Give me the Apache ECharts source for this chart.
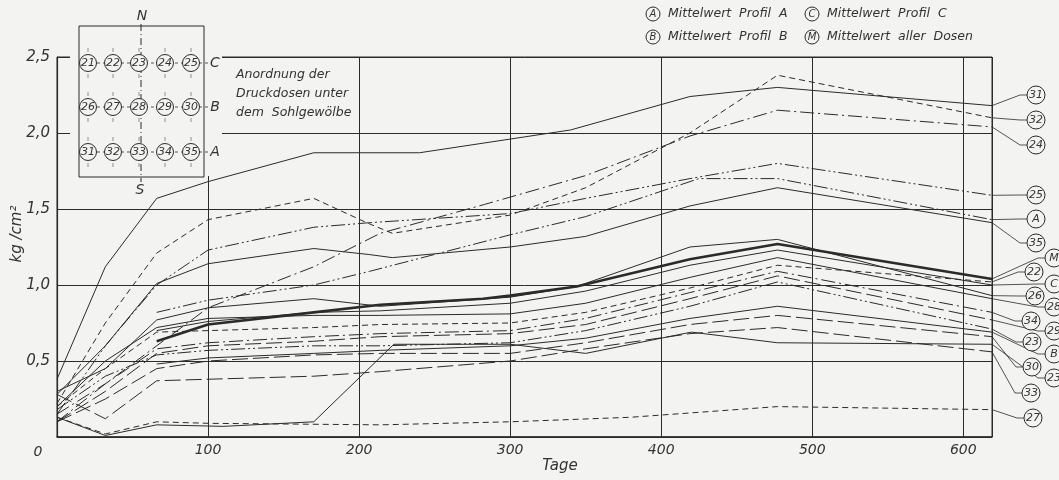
<!DOCTYPE html>
<html><head><meta charset="utf-8">
<script src="https://cdn.jsdelivr.net/npm/echarts/dist/echarts.min.js"></script>
<style>html,body{margin:0;padding:0;background:#f3f3f1}#c{width:1059px;height:480px}</style>
</head><body><div id="c"></div><script>
// ---- data: [Tage, kg/cm²] ----
const s31 = [[0,0.38],[32,1.12],[66,1.57],[100,1.68],[170,1.87],[240,1.87],[340,2.02],[419,2.24],[477,2.30],[619,2.18]];
const s32 = [[0,0.22],[32,0.75],[66,1.21],[100,1.43],[170,1.57],[205,1.41],[222,1.34],[300,1.46],[350,1.64],[419,2.0],[477,2.38],[619,2.10]];
const s24 = [[0,0.1],[32,0.35],[66,0.6],[100,0.85],[170,1.12],[214,1.34],[283,1.53],[350,1.72],[419,1.98],[477,2.15],[619,2.04]];
const s25 = [[0,0.15],[32,0.6],[66,1.0],[100,1.23],[170,1.38],[207,1.41],[300,1.47],[350,1.57],[419,1.70],[477,1.80],[619,1.59]];
const sA  = [[66,0.82],[100,0.9],[170,1.0],[207,1.09],[300,1.33],[350,1.45],[425,1.70],[477,1.70],[619,1.43]];
const s35 = [[0,0.28],[32,0.6],[66,1.01],[100,1.14],[170,1.24],[207,1.20],[222,1.18],[300,1.25],[350,1.32],[419,1.52],[477,1.64],[619,1.41]];
const sM  = [[66,0.63],[100,0.74],[170,0.82],[214,0.87],[282,0.91],[300,0.93],[344,0.99],[419,1.17],[477,1.27],[619,1.04]];
const s26 = [[0,0.3],[32,0.45],[66,0.77],[100,0.85],[170,0.91],[214,0.86],[300,0.92],[344,0.99],[419,1.25],[477,1.30],[619,0.93]];
const sC  = [[66,0.70],[100,0.76],[170,0.82],[214,0.83],[300,0.88],[350,0.96],[419,1.13],[477,1.23],[619,1.00]];
const s28 = [[0,0.2],[32,0.5],[66,0.72],[100,0.78],[170,0.80],[214,0.80],[300,0.81],[350,0.88],[419,1.05],[477,1.18],[619,0.91]];
const s22 = [[0,0.2],[32,0.45],[66,0.69],[100,0.70],[170,0.72],[214,0.74],[300,0.75],[350,0.82],[419,0.98],[477,1.13],[619,1.02]];
const s34 = [[0,0.15],[32,0.35],[66,0.58],[100,0.62],[170,0.66],[214,0.68],[300,0.70],[350,0.78],[419,0.95],[477,1.09],[619,0.82]];
const s29 = [[0,0.1],[32,0.3],[66,0.55],[100,0.60],[170,0.63],[214,0.66],[300,0.68],[350,0.74],[419,0.91],[477,1.06],[619,0.77]];
const s23 = [[0,0.18],[32,0.4],[66,0.54],[100,0.57],[170,0.60],[214,0.60],[300,0.62],[350,0.70],[419,0.86],[477,1.02],[619,0.71]];
const sB  = [[66,0.48],[100,0.52],[170,0.55],[214,0.57],[300,0.60],[350,0.65],[419,0.78],[477,0.86],[619,0.69]];
const s30 = [[0,0.1],[32,0.25],[66,0.45],[100,0.50],[170,0.54],[214,0.55],[300,0.55],[350,0.62],[419,0.74],[477,0.80],[619,0.66]];
const s21 = [[0,0.13],[32,0.01],[66,0.08],[110,0.07],[170,0.10],[223,0.61],[300,0.61],[350,0.55],[400,0.65],[420,0.69],[477,0.62],[619,0.61]];
const s33 = [[0,0.28],[32,0.12],[66,0.37],[100,0.38],[170,0.40],[214,0.43],[300,0.50],[350,0.58],[419,0.68],[477,0.72],[619,0.56]];
const s27 = [[0,0.13],[32,0.02],[66,0.10],[100,0.09],[214,0.08],[300,0.10],[380,0.13],[477,0.20],[619,0.18]];

const seriesNames = ['31','32','24','25','A','35','M','26','C','28','22','34','29','23','B','30','21','33','27'];
const seriesData  = [s31,s32,s24,s25,sA,s35,sM,s26,sC,s28,s22,s34,s29,s23,sB,s30,s21,s33,s27];
const endLabels   = ['31','32','24','25','A','35','M','26','C','28','22','34','29','23','B','30','23','33','27'];
const xMax = 619;
const yTicks = [0,0.5,1.0,1.5,2.0,2.5];

// ---- styles ----
const INK = '#2b2b2b', BG = '#f3f3f1';
const FONT = 'DejaVu Sans';
const DASH = {solid:'solid', dash:[6,4], dashdot:[14,4,2,4], dashdotdot:[14,3,2,3,2,3], long:[16,5]};
const styleOf = {'31':'solid','32':'dash','24':'dashdot','25':'dashdotdot','A':'dashdotdot','35':'solid','M':'solid',
  '26':'solid','C':'solid','28':'solid','22':'dash','34':'dashdot','29':'long','23':'dashdotdot','B':'solid',
  '30':'long','21':'solid','33':'long','27':'dash'};
const labelSlots = {'31':[1036,95],'32':[1036,120],'24':[1036,145],'25':[1036,195],'A':[1036,219],'35':[1036,243],
  'M':[1054,258],'22':[1034,272],'C':[1054,284],'26':[1035,296],'28':[1054,307],'34':[1031,321],'29':[1054,331],
  '23':[1032,342],'B':[1054,354],'30':[1032,367],'21':[1054,378],'33':[1031,393],'27':[1033,418]};

const chart = echarts.init(document.getElementById('c'), null, {renderer:'canvas'});
const series = seriesNames.map((n,i)=>({
  name:n, type:'line', data:seriesData[i], symbol:'none', smooth:false, silent:true, z: n==='M'?4:3,
  lineStyle:{color:INK, width: n==='M'?2.6:1, type: DASH[styleOf[n]]}
}));

chart.setOption({
  backgroundColor: BG,
  animation:false,
  grid:{left:57, right:67, top:57, bottom:43, containLabel:false, outerBoundsMode:'none',
        show:true, borderColor:INK, borderWidth:1, backgroundColor:'transparent'},
  xAxis:{type:'value', min:0, max:xMax, interval:100,
    axisLine:{show:true, onZero:false, lineStyle:{color:INK, width:1.6}}, axisTick:{show:false},
    splitLine:{show:true, lineStyle:{color:INK, width:1}},
    axisLabel:{showMaxLabel:false, margin:6, color:'#333', fontFamily:FONT, fontStyle:'italic', fontSize:14,
      formatter: v => v===0 ? '{z|0}' : String(v),
      rich:{z:{padding:[2,38,0,0], color:'#333', fontFamily:FONT, fontStyle:'italic', fontSize:14}}}},
  yAxis:{type:'value', min:0, max:2.5, interval:0.5,
    axisLine:{show:true, lineStyle:{color:INK, width:1.2}}, axisTick:{show:false},
    splitLine:{show:true, lineStyle:{color:INK, width:1}},
    axisLabel:{margin:7, color:'#333', fontFamily:FONT, fontStyle:'italic', fontSize:15,
      formatter: v => v===0 ? '' : v.toFixed(1).replace('.', ',')}},
  series
});

// ---- annotations ----
const g = [];
const T = (text,x,y,size,extra) => Object.assign({type:'text', z:60, x, y,
  style:{text, fill:'#333', font:'italic '+size+'px "'+FONT+'"', textAlign:'center', textVerticalAlign:'middle'}}, extra||{});
// hide grid portions behind inset
g.push({type:'rect', z:50, shape:{x:70,y:50,width:152,height:12}, style:{fill:BG}});
g.push({type:'rect', z:50, shape:{x:70,y:126,width:152,height:12}, style:{fill:BG}});
g.push({type:'rect', z:50, shape:{x:202,y:50,width:12,height:126}, style:{fill:BG}});
// inset box
g.push({type:'rect', z:51, shape:{x:79,y:26,width:125,height:151}, style:{fill:BG, stroke:INK, lineWidth:1}});
const cols = [88,113,139,165,191], rows = [63,107,152], rowLetters = ['C','B','A'];
const nums = [['21','22','23','24','25'],['26','27','28','29','30'],['31','32','33','34','35']];
g.push({type:'line', z:52, shape:{x1:141,y1:24,x2:141,y2:182}, style:{stroke:INK, lineWidth:1, lineDash:[7,3,1,3]}});
rows.forEach((ry,ri)=>{
  g.push({type:'line', z:52, shape:{x1:79,y1:ry,x2:208,y2:ry}, style:{stroke:INK, lineWidth:0.8, lineDash:[3,3]}});
  g.push(T(rowLetters[ri],215,ry,14));
  cols.forEach((cx,ci)=>{
    g.push({type:'line', z:52, shape:{x1:cx,y1:ry-15,x2:cx,y2:ry-11}, style:{stroke:'#777', lineWidth:0.8}});
    g.push({type:'line', z:52, shape:{x1:cx,y1:ry+11,x2:cx,y2:ry+15}, style:{stroke:'#777', lineWidth:0.8}});
    g.push({type:'circle', z:53, shape:{cx,cy:ry,r:8.5}, style:{fill:BG, stroke:INK, lineWidth:1}});
    g.push(T(nums[ri][ci],cx,ry+0.5,11,{z:54}));
  });
});
g.push(T('N',142,16,14));
g.push(T('S',140,190,14));
g.push({type:'text', z:60, x:236, y:75, style:{text:'Anordnung der', fill:'#333', font:'italic 12.5px "'+FONT+'"', textVerticalAlign:'middle'}});
g.push({type:'text', z:60, x:236, y:94, style:{text:'Druckdosen unter', fill:'#333', font:'italic 12.5px "'+FONT+'"', textVerticalAlign:'middle'}});
g.push({type:'text', z:60, x:236, y:113, style:{text:'dem  Sohlgewölbe', fill:'#333', font:'italic 12.5px "'+FONT+'"', textVerticalAlign:'middle'}});
// axis names
g.push(T('kg /cm²',17,234,15,{rotation:Math.PI/2}));
g.push(T('Tage',560,466,15));
// legend
const legendItems = [['A','Mittelwert  Profil  A',653,14],['B','Mittelwert  Profil  B',653,37],
                     ['C','Mittelwert  Profil  C',812,14],['M','Mittelwert  aller  Dosen',812,37]];
legendItems.forEach(([k,t,x,y])=>{
  g.push({type:'circle', z:55, shape:{cx:x,cy:y,r:7}, style:{fill:'none', stroke:INK, lineWidth:1}});
  g.push(T(k,x,y+0.5,10));
  g.push({type:'text', z:60, x:x+15, y, style:{text:t, fill:'#333', font:'italic 12.5px "'+FONT+'"', textVerticalAlign:'middle'}});
});
// end labels with leader lines
seriesNames.forEach((n,i)=>{
  const d = seriesData[i], last = d[d.length-1];
  const p = chart.convertToPixel({gridIndex:0}, last);
  const [cx,cy] = labelSlots[n];
  g.push({type:'polyline', z:55, shape:{points:[[p[0],p[1]],[cx-16,cy],[cx-9,cy]]}, style:{stroke:INK, lineWidth:0.8, fill:'none'}});
  g.push({type:'circle', z:56, shape:{cx,cy,r:9}, style:{fill:BG, stroke:INK, lineWidth:1}});
  g.push(T(endLabels[i],cx,cy+0.5,11,{z:57}));
});
chart.setOption({graphic:g});
</script></body></html>
